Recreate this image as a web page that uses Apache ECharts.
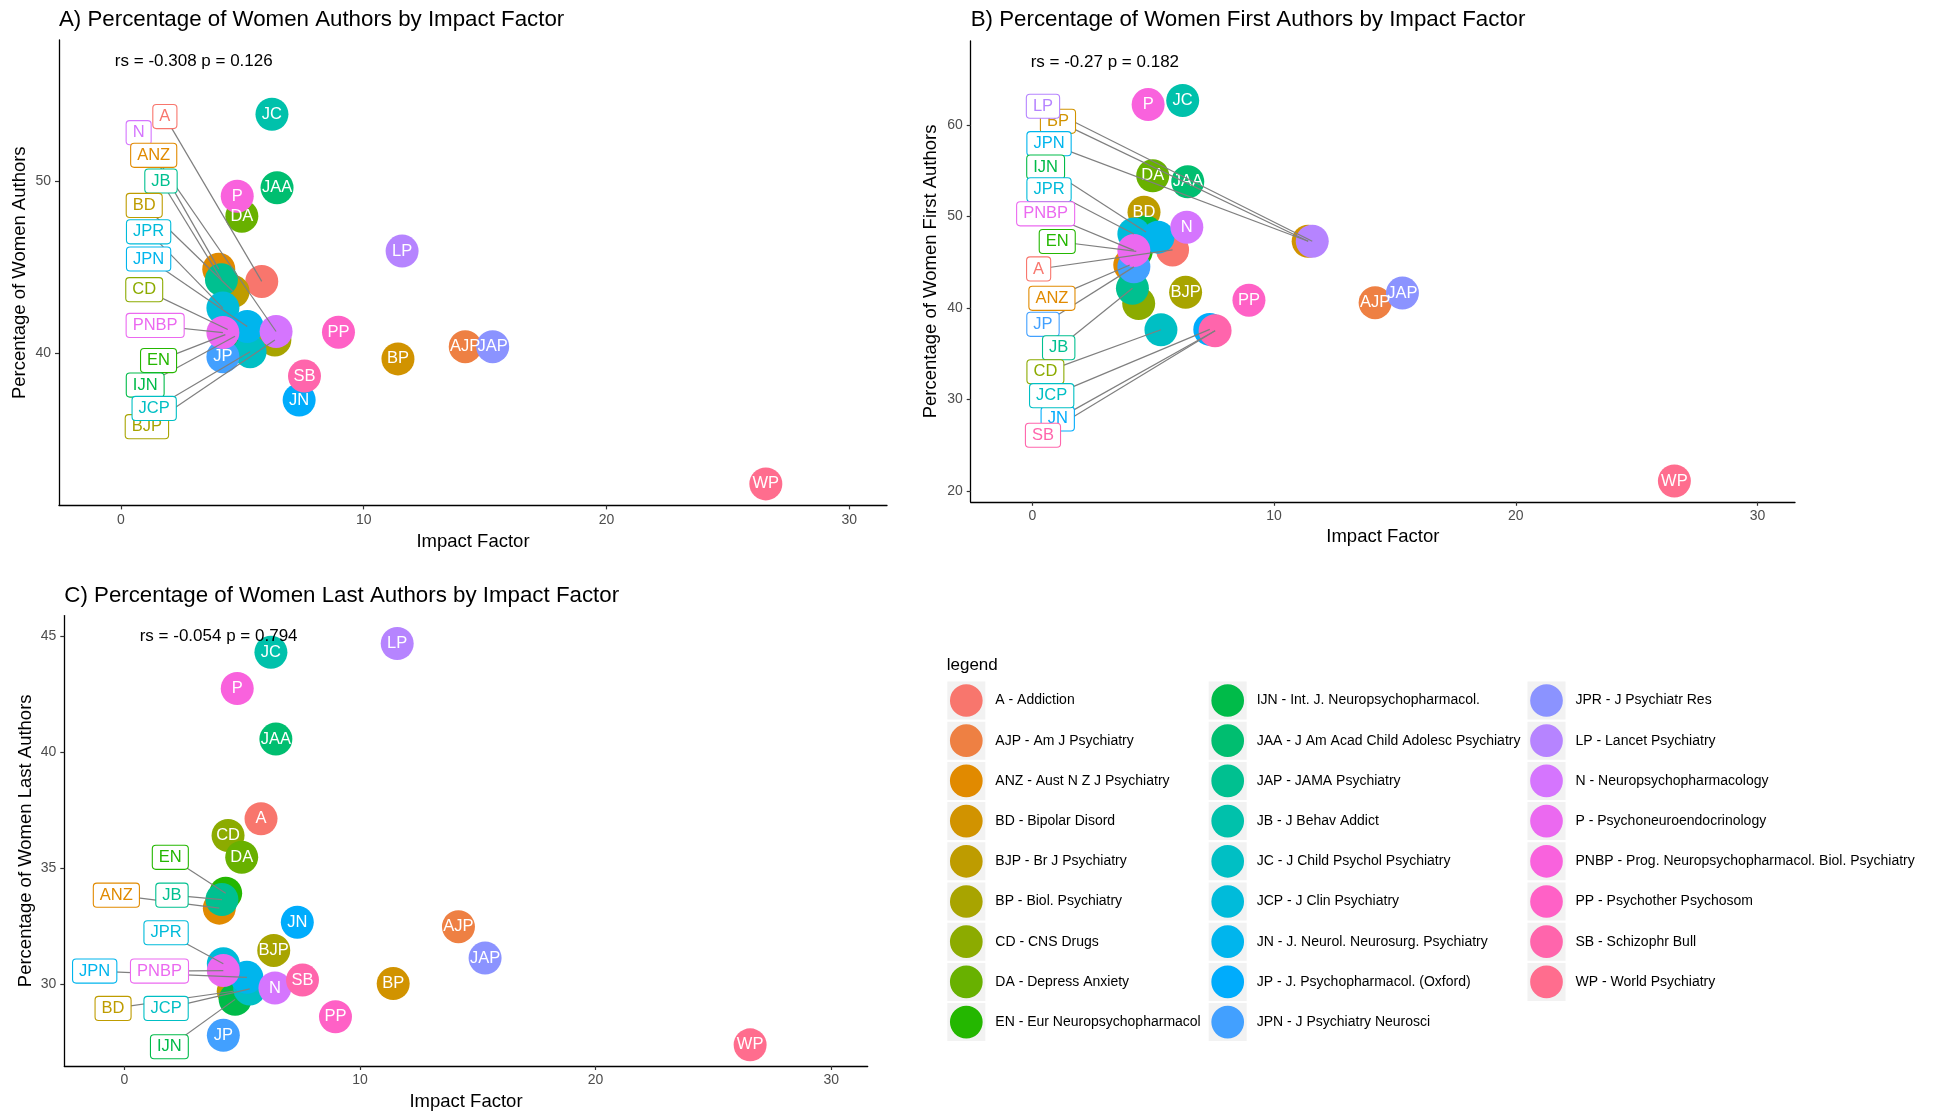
<!DOCTYPE html>
<html><head><meta charset="utf-8">
<script src="https://cdn.jsdelivr.net/npm/echarts@6/dist/echarts.min.js"></script>
<style>html,body{margin:0;padding:0;background:#fff;}#chart{width:1934px;height:1112px;}</style>
</head><body><div id="chart"></div>
<script>
// ---------------- DATA ----------------
const abbr = ['A','AJP','ANZ','BD','BJP','BP','CD','DA','EN','IJN','JAA','JAP','JB','JC','JCP','JN','JP','JPN','JPR','LP','N','P','PNBP','PP','SB','WP'];
const fullNames = ['Addiction','Am J Psychiatry','Aust N Z J Psychiatry','Bipolar Disord','Br J Psychiatry','Biol. Psychiatry','CNS Drugs','Depress Anxiety','Eur Neuropsychopharmacol','Int. J. Neuropsychopharmacol.','J Am Acad Child Adolesc Psychiatry','JAMA Psychiatry','J Behav Addict','J Child Psychol Psychiatry','J Clin Psychiatry','J. Neurol. Neurosurg. Psychiatry','J. Psychopharmacol. (Oxford)','J Psychiatry Neurosci','J Psychiatr Res','Lancet Psychiatry','Neuropsychopharmacology','Psychoneuroendocrinology','Prog. Neuropsychopharmacol. Biol. Psychiatry','Psychother Psychosom','Schizophr Bull','World Psychiatry'];
const impactFactor = [5.80,14.18,4.03,4.62,6.34,11.41,4.40,4.98,4.30,4.70,6.43,15.31,4.14,6.22,5.32,7.34,4.20,5.20,4.20,11.58,6.39,4.79,4.20,8.96,7.56,26.56];
const pctAuthors   = [44.19,40.40,44.90,43.60,40.79,39.69,41.40,47.98,41.10,41.00,49.63,40.40,44.29,53.90,40.11,37.30,39.82,41.57,42.64,45.95,41.28,49.14,41.22,41.24,38.69,32.43];
const pctFirst     = [46.35,40.59,44.70,50.48,41.72,47.30,40.50,54.46,46.20,48.30,53.80,41.64,42.16,62.68,37.63,37.67,44.50,47.75,48.10,47.30,48.84,62.23,46.30,40.86,37.53,21.10];
const pctLast      = [37.13,32.48,33.28,29.70,31.46,30.03,36.41,35.47,33.92,29.35,40.56,31.13,33.65,44.30,29.80,32.67,27.80,30.30,30.88,44.68,29.84,42.74,30.59,28.60,30.18,27.39];
const corrText = ['rs = -0.308 p = 0.126','rs = -0.27 p = 0.182','rs = -0.054 p = 0.794'];
const corrAt = [[3,56.97],[3,66.9],[4,45]];
const xTicks = [0,10,20,30];
const yTicksA = [40,50];
const yTicksB = [20,30,40,50,60];
const yTicksC = [30,35,40,45];
// repelled label anchors (data units), in drawing order
const repelA = {A:[1.81,53.76],N:[0.73,52.83],ANZ:[1.35,51.51],JB:[1.65,50.02],BD:[0.96,48.6],JPR:[1.14,47.07],JPN:[1.14,45.49],CD:[0.96,43.71],PNBP:[1.41,41.63],EN:[1.55,39.59],IJN:[1.0,38.17],BJP:[1.07,35.75],JCP:[1.37,36.81]};
const repelB = {BP:[1.06,60.4],LP:[0.44,62.05],JPN:[0.69,57.96],IJN:[0.55,55.41],JPR:[0.69,52.92],PNBP:[0.55,50.3],EN:[1.03,47.27],A:[0.26,44.27],ANZ:[0.81,41.06],JP:[0.44,38.22],JB:[1.09,35.66],CD:[0.54,33.03],JN:[1.05,27.89],JCP:[0.80,30.43],SB:[0.44,26.1]};
const repelC = {EN:[1.95,35.47],ANZ:[-0.34,33.84],JB:[2.02,33.84],JPR:[1.77,32.22],JPN:[-1.26,30.57],PNBP:[1.49,30.57],BD:[-0.48,28.96],JCP:[1.77,28.96],IJN:[1.91,27.31]};
const segTargetB = {JPN:'BP',CD:'JCP',JCP:'JN',JN:'SB'};

// ---------------- COLOURS (ggplot hue palette) ----------------
function hclHex(h,c,l){
  const WY=100, Wu=0.1978398, Wv=0.4683363;
  const hr=h*Math.PI/180, L=l, U=c*Math.cos(hr), V=c*Math.sin(hr);
  const Y=WY*(L>7.999592?Math.pow((L+16)/116,3):L/903.3);
  const u=U/(13*L)+Wu, v=V/(13*L)+Wv;
  const X=9*Y*u/(4*v), Z=-X/3-5*Y+3*Y/v;
  const g=x=>x>0.00304?1.055*Math.pow(x,1/2.4)-0.055:12.92*x;
  const ch=[g((3.240479*X-1.537150*Y-0.498535*Z)/WY),g((-0.969256*X+1.875992*Y+0.041556*Z)/WY),g((0.055648*X-0.204043*Y+1.057311*Z)/WY)];
  return '#'+ch.map(x=>{x=Math.min(1,Math.max(0,x));return Math.floor(255*x+0.5).toString(16).padStart(2,'0');}).join('');
}
const nLev = abbr.length;
const hues = [];
for(let i=0;i<nLev;i++) hues.push(hclHex(15+i*(360-360/nLev)/(nLev-1),100,65));
const plotOrder = abbr.map((_,i)=>i).sort((a,b)=>fullNames[a]<fullNames[b]?-1:(fullNames[a]>fullNames[b]?1:0));
const plotColor = new Array(nLev);
plotOrder.forEach((i,r)=>{plotColor[i]=hues[r];});
const legendColor = hues.slice();

// ---------------- LAYOUT ----------------
const FONT='"Liberation Sans", Arial, Helvetica, sans-serif';
const grids=[
  {left:59,top:40,width:828,height:465.4},
  {left:970.7,top:41,width:824.3,height:460.8},
  {left:64.3,top:615.6,width:803.4,height:452}
];
const yRanges=[[31.18,58.21],[18.83,69.18],[26.48,45.88]];
const yTicks=[yTicksA,yTicksB,yTicksC];
const yNames=['Percentage of Women Authors','Percentage of Women First Authors','Percentage of Women Last Authors'];
const titles=['A) Percentage of Women Authors by Impact Factor','B) Percentage of Women First Authors by Impact Factor','C) Percentage of Women Last Authors by Impact Factor'];
const xNameGap=[27,25.5,26], yNameGap=[30,30,29];
const panelY=[pctAuthors,pctFirst,pctLast];
const repels=[repelA,repelB,repelC];
const segTargets=[{},segTargetB,{}];

const xAxes=[], yAxes=[], series=[];
for(let p=0;p<3;p++){
  xAxes.push({gridIndex:p,type:'value',min:-2.55,max:31.55,name:'Impact Factor',nameLocation:'middle',nameGap:xNameGap[p],
    nameTextStyle:{fontSize:18.5,color:'#000',fontFamily:FONT},
    axisLine:{show:true,onZero:false,lineStyle:{color:'#000',width:1.3}},
    axisTick:{show:true,length:4,customValues:xTicks,lineStyle:{color:'#333',width:1.2}},
    axisLabel:{customValues:xTicks,fontSize:14,color:'#4D4D4D',margin:7.5,fontFamily:FONT},
    splitLine:{show:false}});
  yAxes.push({gridIndex:p,type:'value',min:yRanges[p][0],max:yRanges[p][1],name:yNames[p],nameLocation:'middle',nameGap:yNameGap[p],
    nameTextStyle:{fontSize:18.5,color:'#000',fontFamily:FONT},
    axisLine:{show:true,onZero:false,lineStyle:{color:'#000',width:1.3}},
    axisTick:{show:true,length:4,customValues:yTicks[p],lineStyle:{color:'#333',width:1.2}},
    axisLabel:{customValues:yTicks[p],fontSize:14,color:'#4D4D4D',margin:8,fontFamily:FONT},
    splitLine:{show:false}});
  const yv=panelY[p], rp=repels[p];
  // points
  series.push({type:'scatter',xAxisIndex:p,yAxisIndex:p,z:2,silent:true,symbol:'circle',symbolSize:33,
    itemStyle:{opacity:1},emphasis:{disabled:true},
    data:plotOrder.map(i=>({name:abbr[i],value:[impactFactor[i],yv[i]],itemStyle:{color:plotColor[i],opacity:1}}))});
  // inner text
  series.push({type:'scatter',xAxisIndex:p,yAxisIndex:p,z:3,silent:true,symbolSize:1,
    itemStyle:{color:'rgba(0,0,0,0)',opacity:1},emphasis:{disabled:true},
    label:{show:true,position:'inside',formatter:'{b}',color:'#fff',fontSize:16.5,fontFamily:FONT},
    data:plotOrder.filter(i=>!(abbr[i] in rp)).map(i=>({name:abbr[i],value:[impactFactor[i],yv[i]]}))});
  // segments
  series.push({type:'lines',coordinateSystem:'cartesian2d',xAxisIndex:p,yAxisIndex:p,z:4,silent:true,polyline:false,
    lineStyle:{color:'#7F7F7F',width:1.2,opacity:1,curveness:0},
    data:Object.keys(rp).map(k=>{const t=abbr.indexOf(segTargets[p][k]||k);return {coords:[rp[k],[impactFactor[t],yv[t]]]};})});
  // label boxes
  series.push({type:'scatter',xAxisIndex:p,yAxisIndex:p,z:5,silent:true,symbolSize:1,
    itemStyle:{color:'rgba(0,0,0,0)',opacity:1},emphasis:{disabled:true},
    label:{show:true,position:'inside',formatter:'{b}',fontSize:16.5,fontFamily:FONT,backgroundColor:'#fff',
      borderWidth:1.1,borderRadius:3,padding:[3,6,3,6],lineHeight:17},
    data:Object.keys(rp).map(k=>{const i=abbr.indexOf(k);return {name:k,value:rp[k],label:{color:plotColor[i],borderColor:plotColor[i]}};})});
  // correlation annotation
  series.push({type:'scatter',xAxisIndex:p,yAxisIndex:p,z:6,silent:true,symbolSize:1,
    itemStyle:{color:'rgba(0,0,0,0)',opacity:1},emphasis:{disabled:true},
    label:{show:true,position:'inside',formatter:'{b}',color:'#000',fontSize:17,fontFamily:FONT},
    data:[{name:corrText[p],value:corrAt[p]}]});
}
// legend dummy series
const legendNames = abbr.map((a,i)=>a+' - '+fullNames[i]);
legendNames.forEach((nm,i)=>{
  series.push({type:'scatter',name:nm,xAxisIndex:0,yAxisIndex:0,data:[],itemStyle:{color:legendColor[i],opacity:1}});
});
const circleIcon='path://M2.65,19A16.35,16.35,0,1,1,35.35,19A16.35,16.35,0,1,1,2.65,19Z M0,0L0,0Z M43,38L43,38Z';
const rectIcon='path://M0,0H38V38H0Z M43,38L43,38Z';
const legendLefts=[947.3,1208.7,1527.5];
const legendCols=[legendNames.slice(0,9),legendNames.slice(9,18),legendNames.slice(18)];
const legends=[];
legendCols.forEach((col,c)=>{
  legends.push({orient:'vertical',left:legendLefts[c],top:681.5,padding:0,itemWidth:43,itemHeight:38,itemGap:2.2,
    icon:rectIcon,selectedMode:false,z:4,itemStyle:{color:'#F2F2F2',borderWidth:0},
    textStyle:{fontSize:14,color:'rgba(0,0,0,0)',fontFamily:FONT},data:col});
  legends.push({orient:'vertical',left:legendLefts[c],top:681.5,padding:0,itemWidth:43,itemHeight:38,itemGap:2.2,
    icon:circleIcon,selectedMode:false,z:5,
    textStyle:{fontSize:14,color:'#000',fontFamily:FONT},data:col});
});

const titleOpts=[
  {text:titles[0],left:59,top:6.6},
  {text:titles[1],left:970.7,top:6.6},
  {text:titles[2],left:64.3,top:583.3}
].map(t=>Object.assign(t,{padding:0,textStyle:{fontSize:22.3,fontWeight:'normal',color:'#000',fontFamily:FONT,lineHeight:26}}));
titleOpts.push({text:'legend',left:946.7,top:655,padding:0,textStyle:{fontSize:17,fontWeight:'normal',color:'#000',fontFamily:FONT,lineHeight:20}});

const chart=echarts.init(document.getElementById('chart'));
chart.setOption({
  animation:false,
  backgroundColor:'#fff',
  title:titleOpts,
  grid:grids,
  xAxis:xAxes,
  yAxis:yAxes,
  legend:legends,
  series:series
});
</script></body></html>
